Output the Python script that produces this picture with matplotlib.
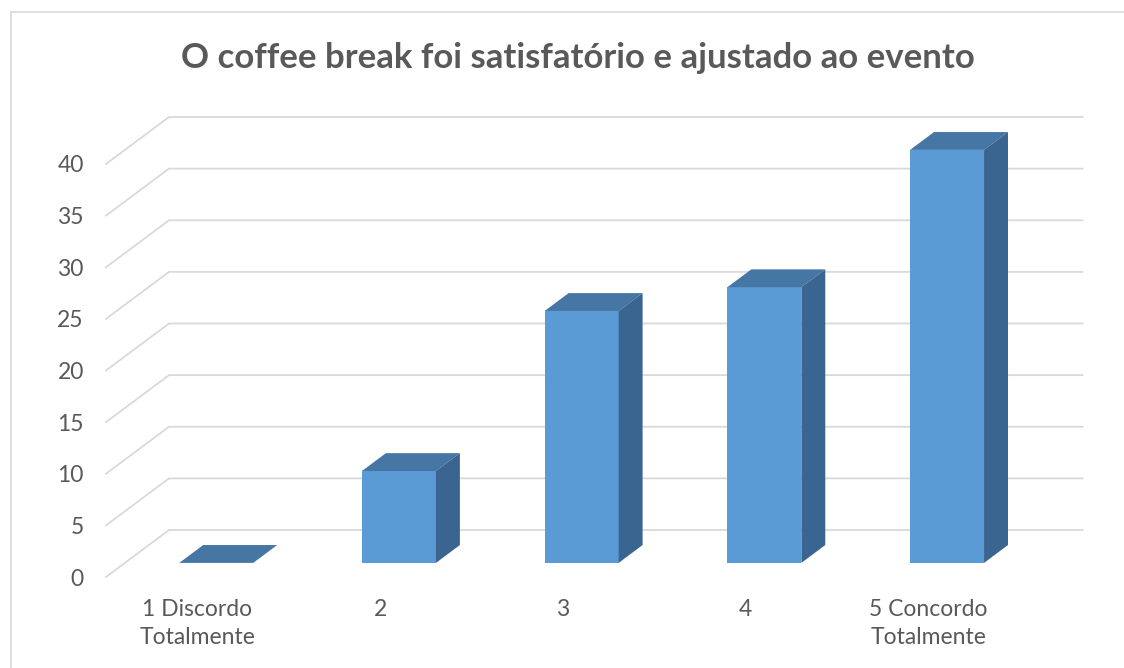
import numpy as np
import matplotlib
matplotlib.use('Agg')
import matplotlib.pyplot as plt
from matplotlib.lines import Line2D

plt.rcParams['font.family'] = ['Lato', 'DejaVu Sans']

# Respostas (% dos participantes)
categorias = ['1 Discordo\nTotalmente', '2', '3', '4', '5 Concordo\nTotalmente']
valores = [0.0, 8.9, 24.4, 26.7, 40.0]
y_ticks = [0, 5, 10, 15, 20, 25, 30, 35, 40]
titulo = 'O coffee break foi satisfatório e ajustado ao evento'

cor_frente = '#5B9BD5'
cor_topo = '#4676A3'
cor_lado = '#3A6590'
cor_grade = '#D9D9D9'
cor_texto = '#595959'

W, H = 1124, 668
fig = plt.figure(figsize=(W / 100, H / 100), dpi=100)
fig.patch.set_facecolor('white')

# eixo: x=0 no canto frontal esquerdo do piso, y=0 no piso frontal
px_x, px_y = 182.7, 10.325
left, right, top, bottom = 106, 1092, 110, 577
ax = fig.add_axes([left / W, (H - bottom) / H, (right - left) / W, (bottom - top) / H])
ax.set_xlim(0, (right - left) / px_x)
ax.set_ylim(0, (bottom - top) / px_y)
for s in ax.spines.values():
    s.set_visible(False)

# profundidade do "3D" (projeção oblíqua)
dx, dy = 63 / px_x, 47 / px_y
n = len(categorias)

# grade: diagonal na lateral + linha na parede do fundo
for t in y_ticks:
    ax.plot([0, dx, n + dx], [t, t + dy, t + dy], color=cor_grade, lw=1.3,
            zorder=1, clip_on=False, solid_joinstyle='miter')

# barras
larg = 0.405
f0, f1 = 0.30, 0.68
x = np.arange(n) + 0.5
ax.bar(x + f0 * dx, valores, width=larg, bottom=f0 * dy, color=cor_frente,
       zorder=3, linewidth=0)
for xi, v in zip(x, valores):
    xl = xi - larg / 2 + f0 * dx
    xr = xi + larg / 2 + f0 * dx
    yb = f0 * dy
    yt = yb + v
    ddx, ddy = (f1 - f0) * dx, (f1 - f0) * dy
    ax.fill([xl, xr, xr + ddx, xl + ddx], [yt, yt, yt + ddy, yt + ddy],
            color=cor_topo, zorder=4, lw=0)
    if v > 0:
        ax.fill([xr, xr, xr + ddx, xr + ddx], [yb, yt, yt + ddy, yb + ddy],
                color=cor_lado, zorder=4, lw=0)

ax.set_yticks(y_ticks)
ax.set_yticklabels([str(t) for t in y_ticks], fontsize=16.5, color=cor_texto)
ax.set_xticks(x)
ax.set_xticklabels(categorias, fontsize=16.5, color=cor_texto, linespacing=1.4)
ax.tick_params(axis='y', length=0, pad=16)
ax.tick_params(axis='x', length=0, pad=16)

fig.text(577.5 / W, 1 - 58 / H, titulo, ha='center', va='center',
         fontsize=25, fontweight='bold', color=cor_texto)

# moldura do gráfico
fig.add_artist(Line2D([11 / W, 11 / W], [0, 1 - 12 / H], transform=fig.transFigure,
                      color='#D9D9D9', lw=1.2))
fig.add_artist(Line2D([11 / W, 1], [1 - 12 / H, 1 - 12 / H], transform=fig.transFigure,
                      color='#D9D9D9', lw=1.2))

fig.savefig('out.png', dpi=100)
